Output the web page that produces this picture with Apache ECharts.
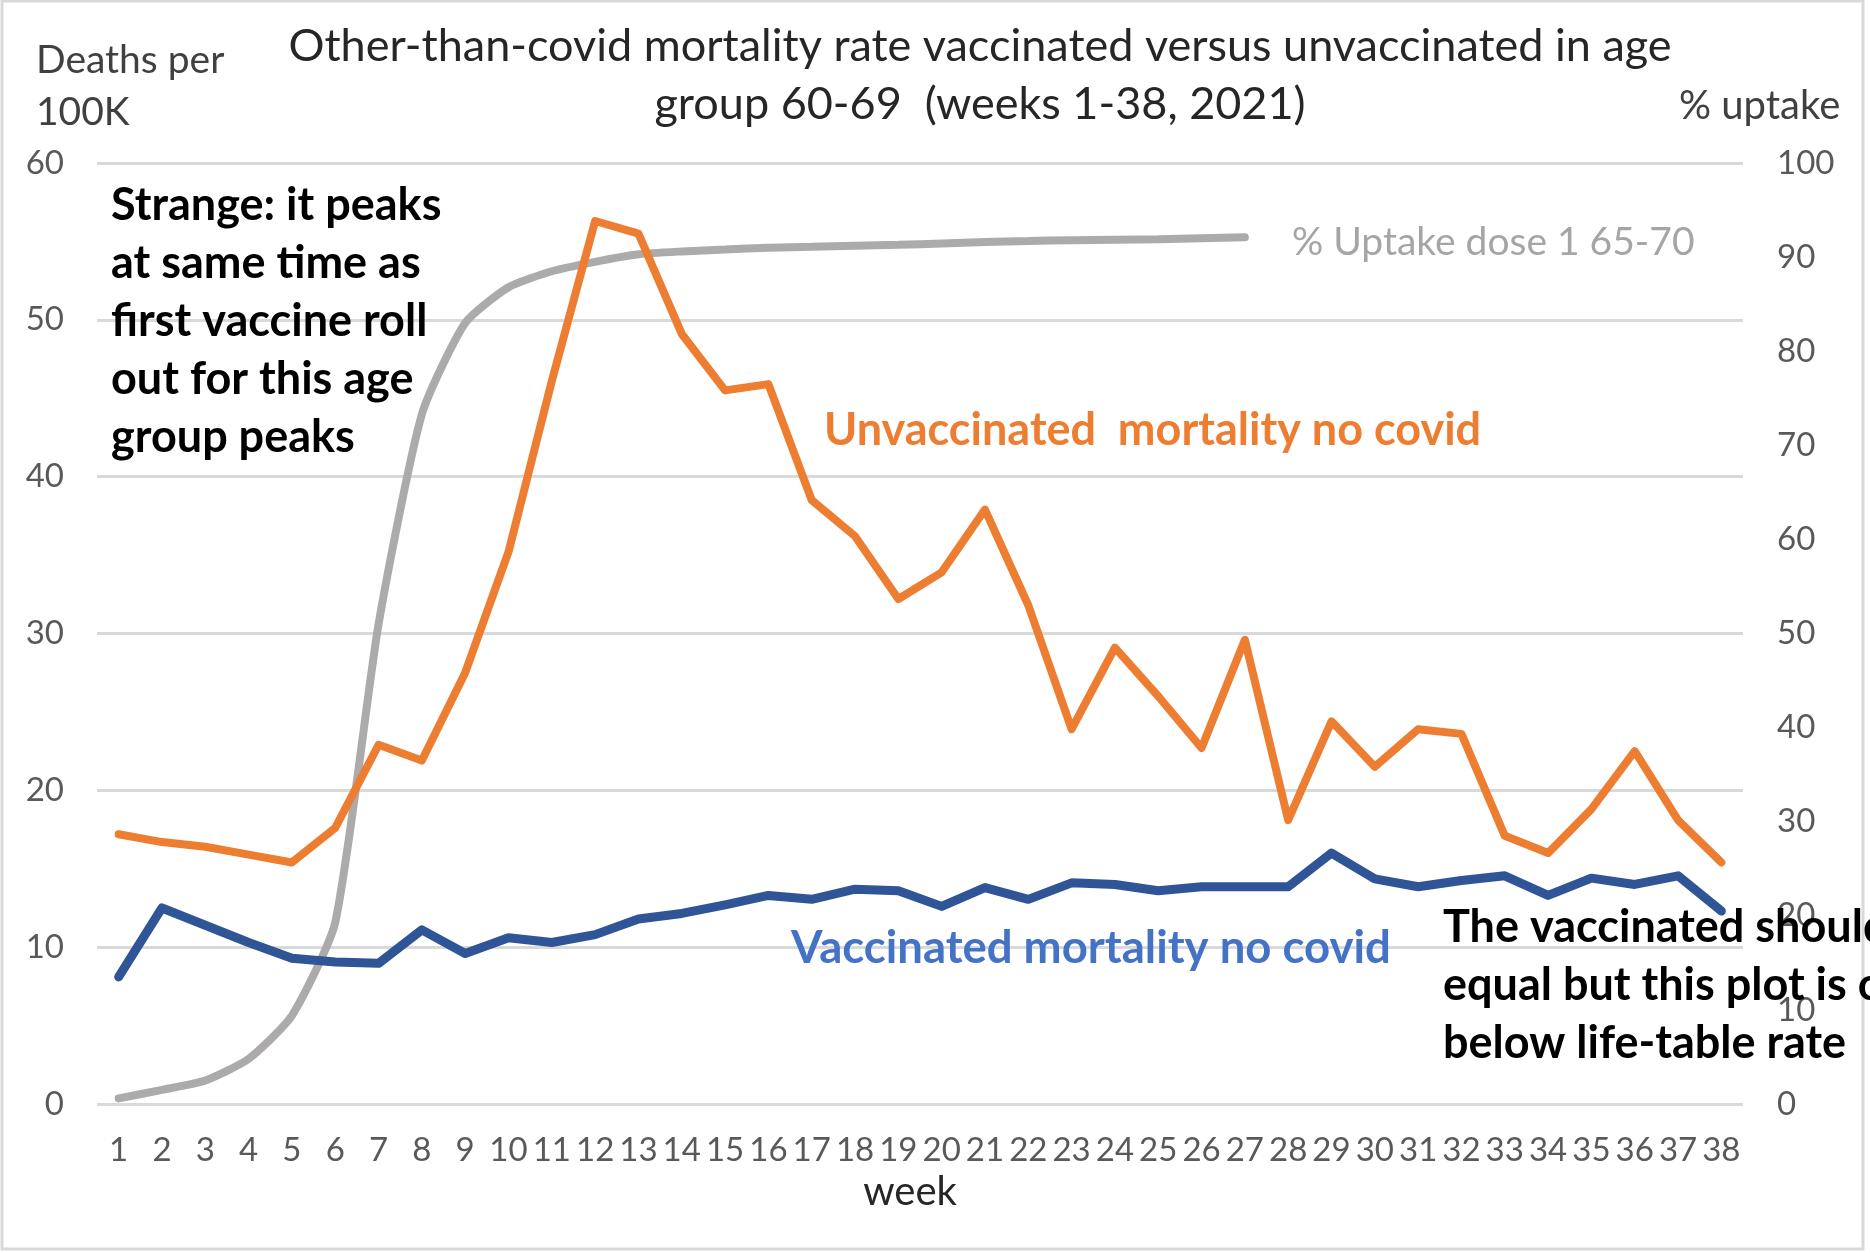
<!DOCTYPE html>
<html><head><meta charset="utf-8">
<script src="https://cdn.jsdelivr.net/npm/echarts@6/dist/echarts.min.js"></script>
<style>html,body{margin:0;padding:0;background:#fff}#c{width:1870px;height:1253px}</style>
</head><body><div id="c"></div>
<script>
const weeks = ["1","2","3","4","5","6","7","8","9","10","11","12","13","14","15","16","17","18","19","20","21","22","23","24","25","26","27","28","29","30","31","32","33","34","35","36","37","38"];
const unvaccinated = [17.2,16.7,16.4,15.9,15.4,17.6,22.9,21.9,27.5,35.2,46.1,56.3,55.5,49.1,45.5,45.9,38.5,36.2,32.2,33.9,37.9,31.8,23.9,29.1,26.0,22.7,29.6,18.1,24.4,21.5,23.9,23.6,17.1,16.0,18.8,22.5,18.1,15.4];
const vaccinated = [8.1,12.5,11.4,10.3,9.3,9.05,8.97,11.1,9.6,10.6,10.3,10.8,11.8,12.15,12.7,13.3,13.05,13.7,13.6,12.6,13.8,13.05,14.1,14.0,13.6,13.85,13.85,13.85,16.0,14.35,13.85,14.25,14.55,13.3,14.4,14.0,14.55,12.3];
const uptake = [0.6,1.5,2.5,4.8,9.4,19.3,51.0,73.3,83.0,86.8,88.5,89.5,90.3,90.6,90.8,91.0,91.1,91.2,91.3,91.45,91.6,91.7,91.8,91.85,91.9,92.0,92.1,null,null,null,null,null,null,null,null,null,null,null];
const leftTicks = {min:0,max:60,interval:10};
const rightTicks = {min:0,max:100,interval:10};
const titleLines = ["Other-than-covid mortality rate vaccinated versus unvaccinated in age","group 60-69  (weeks 1-38, 2021)"];
const noteLeft = ["Strange: it peaks","at same time as","first vaccine roll","out for this age","group peaks"];
const noteRight = ["The vaccinated should be","equal but this plot is clearly","below life-table rate"];

const FONT = 'Lato, "Open Sans", sans-serif';
const chart = echarts.init(document.getElementById('c'), null, {renderer:'canvas'});
function txt(text, x, y, size, color, weight, align){
  return {type:'text', x:x, y:y, z:100, style:{text:text, x:0, y:0, fontFamily:FONT, fontSize:size, fill:color, fontWeight:weight||'normal', textAlign:align||'left', textVerticalAlign:'middle'}};
}
const graphics = [
  {type:'rect', shape:{x:2,y:1,width:1861,height:1248}, style:{fill:'none', stroke:'#d9d9d9', lineWidth:3}, z:0},
  txt(titleLines[0], 980, 46, 45, '#262626', 'normal', 'center'),
  txt(titleLines[1], 980, 104, 45, '#262626', 'normal', 'center'),
  txt("Deaths per", 36, 60, 39, '#404040'),
  txt("100K", 36, 112, 39, '#404040'),
  txt("% uptake", 1679, 106, 40, '#404040'),
  txt("week", 910, 1192, 40, '#262626', 'normal', 'center'),
  txt("% Uptake dose 1 65-70", 1292, 242, 39, '#a5a5a5'),
  txt("Unvaccinated  mortality no covid", 824, 430, 45, '#ed7d31', 'bold'),
  txt("Vaccinated mortality no covid", 791, 948, 45.5, '#4472c4', 'bold')
];
noteLeft.forEach((s,i)=>graphics.push(txt(s, 111, 205 + i*58.2, 45, '#000000', 'bold')));
noteRight.forEach((s,i)=>graphics.push(txt(s, 1443, 927 + i*58.3, 45, '#000000', 'bold')));

chart.setOption({
  backgroundColor:'#ffffff',
  animation:false,
  grid:{left:97, right:127, top:163, bottom:149, containLabel:false},
  xAxis:{type:'category', data:weeks, boundaryGap:true,
    axisLine:{show:false}, axisTick:{show:false},
    axisLabel:{interval:0, margin:30, fontFamily:FONT, fontSize:33, color:'#595959'}},
  yAxis:[
    {type:'value', min:leftTicks.min, max:leftTicks.max, interval:leftTicks.interval,
     axisLine:{show:false}, axisTick:{show:false},
     axisLabel:{margin:33, fontFamily:FONT, fontSize:33, color:'#595959'},
     splitLine:{lineStyle:{color:'#d9d9d9', width:3}}},
    {type:'value', min:rightTicks.min, max:rightTicks.max, interval:rightTicks.interval, position:'right',
     axisLine:{show:false}, axisTick:{show:false},
     axisLabel:{margin:34, fontFamily:FONT, fontSize:33, color:'#595959'},
     splitLine:{show:false}}
  ],
  series:[
    {name:'uptake', type:'line', yAxisIndex:1, data:uptake, smooth:0.2, showSymbol:false, connectNulls:false,
     lineStyle:{color:'#adaaaa', width:8, cap:'round'}, z:2},
    {name:'unvaccinated', type:'line', data:unvaccinated, showSymbol:false,
     lineStyle:{color:'#ed7d31', width:8, cap:'round', join:'round'}, z:3},
    {name:'vaccinated', type:'line', data:vaccinated, showSymbol:false,
     lineStyle:{color:'#2f5597', width:9, cap:'round', join:'round'}, z:4}
  ],
  graphic:graphics
});
</script></body></html>
